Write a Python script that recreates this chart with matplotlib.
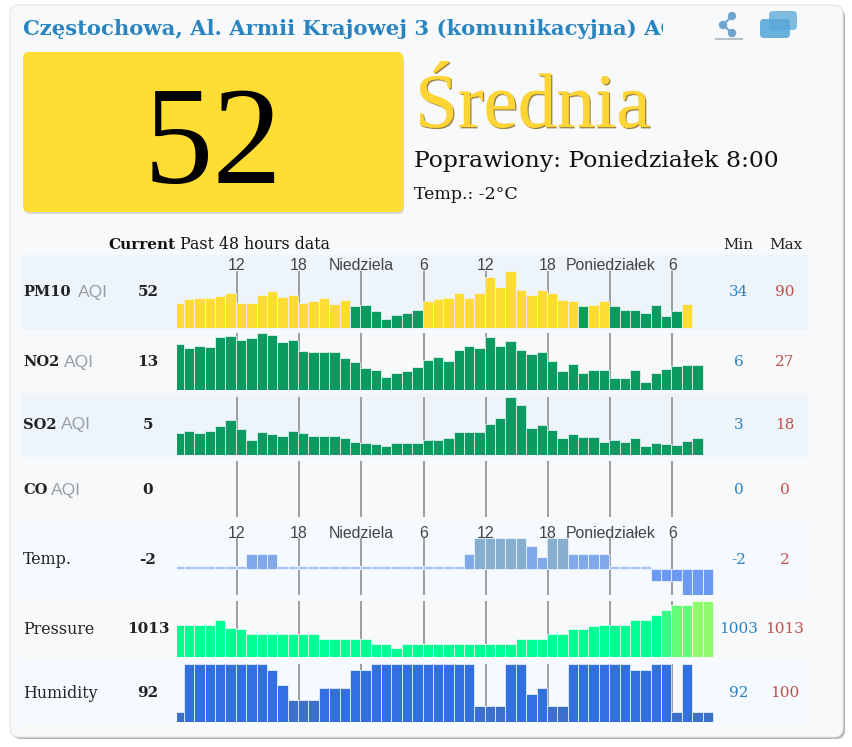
import numpy as np
import matplotlib
matplotlib.use("Agg")
import matplotlib.pyplot as plt
import matplotlib.patheffects as pe
from matplotlib.patches import FancyBboxPatch, Circle, Rectangle

W, H = 852, 747

# data
pm10 = [53, 57, 58, 59, 61, 64, 53, 53, 62, 67, 60, 62, 53, 55, 58, 52, 56, 49, 50, 43, 34, 39, 41, 45, 55,
        57, 59, 64, 58, 64, 83, 71, 90, 68, 62, 68, 64, 56, 55, 49, 51, 55, 49, 45, 45, 41, 50, 38, 43, 52]
no2 = [22.4, 20.5, 21.6, 21.2, 25.6, 26, 24.1, 25.1, 27, 26.3, 23.1, 24.3, 19.3, 19, 19, 19, 16.4, 14.6, 11.8,
       11.1, 8.2, 9.6, 10.8, 12.5, 15.6, 16.9, 15.1, 19.9, 21.6, 20.5, 25.6, 21.5, 23.7, 19.9, 18.2, 18.9, 14.8,
       10.4, 13.7, 9.6, 11.1, 11.1, 7.7, 7.7, 11.1, 6, 9.9, 11.5, 12.7, 13.2, 13.4]
so2 = [6.8, 7.6, 7, 7.4, 9.2, 10.9, 8.3, 4.9, 7.1, 6.5, 6, 7.6, 6.8, 6, 6, 6, 5.3, 4.2, 3.8, 3.6, 3, 3.7, 3.7,
       3.8, 4.9, 4.9, 5.5, 7.1, 7.1, 7.1, 9.8, 11.7, 18, 15.7, 8.6, 9.4, 7.9, 5.3, 6.5, 5.6, 5.6, 4, 4.8, 4, 5.3,
       3, 3.8, 3.5, 3.2, 4.4, 5.5]
co = [0] * 51
temp = [0, 0, 0, 0, 0, 0, 0, 1, 1, 1, 0, 0, 0, 0, 0, 0, 0, 0, 0, 0, 0, 0, 0, 0, 0, 0, 0, 0, 1, 2, 2, 2, 2, 2,
        1.5, 0.8, 2, 2, 1, 1, 1, 1, 0, 0, 0, 0, -0.8, -0.8, -0.8, -1.7, -1.7, -1.7]
pressure = [1008, 1008, 1008, 1008, 1009, 1007.2, 1007, 1006, 1006, 1006, 1006, 1006, 1006, 1006, 1005, 1005,
            1005, 1005, 1005, 1004, 1004, 1003, 1004, 1004, 1004, 1004, 1004, 1004, 1004, 1004, 1004, 1004,
            1004, 1005, 1005, 1005, 1006, 1006, 1007, 1007, 1007.6, 1008, 1008, 1008, 1009, 1009, 1010, 1011,
            1012, 1012, 1013, 1013]
humidity = [92, 100, 100, 100, 100, 100, 100, 100, 100, 99, 96.5, 94, 94, 94, 96, 96, 96, 99, 99, 100, 100, 100,
            100, 100, 100, 100, 100, 100, 100, 93, 93, 93, 100, 100, 95, 96, 93, 93, 100, 100, 100, 100, 100, 100,
            99, 99, 100, 100, 92, 100, 92, 92]

tick_pos = [5.6, 11.6, 17.6, 23.6, 29.6, 35.6, 41.6, 47.6]
tick_labels = ["12", "18", "Niedziela", "6", "12", "18", "Poniedziałek", "6"]

row_names = ["PM10", "NO2", "SO2", "CO", "Temp.", "Pressure", "Humidity"]
current_vals = ["52", "13", "5", "0", "-2", "1013", "92"]
min_vals = ["34", "6", "3", "0", "-2", "1003", "92"]
max_vals = ["90", "27", "18", "0", "2", "1013", "100"]


def pm10_color(v):
    return "#ffdc33" if v > 50 else "#0b9a60"


def temp_color(v):
    if v >= 2:
        return "#86afcf"
    if v > 0:
        return "#7fa9e8"
    if v == 0:
        return "#a9c1f5"
    return "#6c9af2"


def pressure_color(v):
    if v >= 1013:
        return "#8efb6c"
    if v >= 1012:
        return "#62fd78"
    if v >= 1011:
        return "#35fd84"
    return "#00ff92"


def humidity_color(v):
    return "#3d70cb" if v <= 94 else "#326fe0"


fig = plt.figure(figsize=(W / 100, H / 100), dpi=100)
bg = fig.add_axes([0, 0, 1, 1])
bg.set_xlim(0, W)
bg.set_ylim(H, 0)
bg.axis("off")

SERIF = "Liberation Serif"
WIDE = "DejaVu Serif"
SANS = "Liberation Sans"

# card
bg.add_patch(FancyBboxPatch((12, 8), 833, 731, boxstyle="round,pad=0,rounding_size=9", fc="#b5b5b5", ec="none"))
bg.add_patch(FancyBboxPatch((10, 5), 833, 732, boxstyle="round,pad=0,rounding_size=9", fc="#f7f9fa", ec="#e4e6e7", lw=0.8))

# header, the title is cut off inside the card like in the original
title = bg.text(23, 35, "Częstochowa, Al. Armii Krajowej 3 (komunikacyjna) AQI", family=WIDE, weight="bold",
                fontsize=15.2, color="#2a84bf", clip_on=True)
title.set_clip_path(Rectangle((23, 0), 640, 60, transform=bg.transData))

# share icon
for cx, cy in [(732, 16), (723, 25), (732, 33)]:
    bg.add_patch(Circle((cx, cy), 4.2, fc="#6fa5cc", ec="none"))
bg.plot([732, 723, 732], [16, 25, 33], color="#6fa5cc", lw=1.5)
bg.plot([716, 742], [39, 39], color="#b5c2ca", lw=1.5)

# chat icon
bg.add_patch(FancyBboxPatch((769, 11), 28, 19, boxstyle="round,pad=0,rounding_size=4", fc="#7fbce0", ec="none"))
bg.add_patch(FancyBboxPatch((760, 19), 30, 19, boxstyle="round,pad=0,rounding_size=4", fc="#5aa9da", ec="none", alpha=0.9))

# big AQI box
bg.add_patch(FancyBboxPatch((24, 54), 380, 160, boxstyle="round,pad=0,rounding_size=6", fc="#d8d8d0", ec="none"))
bg.add_patch(FancyBboxPatch((23, 52), 380, 160, boxstyle="round,pad=0,rounding_size=6", fc="#ffdd33", ec="none"))
bg.text(213, 183, "52", family=SERIF, fontsize=100, color="black", ha="center", va="baseline")

bg.text(415, 127, "Średnia", family=SERIF, fontsize=55.5, color="#fdd535", va="baseline",
        path_effects=[pe.withSimplePatchShadow(offset=(1, -1), shadow_rgbFace="#8a6a20", alpha=0.8), pe.Normal()])
bg.text(414, 167, "Poprawiony: Poniedziałek 8:00", family=WIDE, fontsize=16.9, color="#111111", va="baseline")
bg.text(414, 199, "Temp.: -2°C", family=WIDE, fontsize=12.5, color="#111111", va="baseline")

# table header
bg.text(108, 249, "Current", family=WIDE, weight="bold", fontsize=11, color="#111111")
bg.text(180, 249, "Past 48 hours data", family=WIDE, fontsize=11.4, color="#111111")
bg.text(738, 249, "Min", family=WIDE, fontsize=10.8, color="#222222", ha="center")
bg.text(786, 249, "Max", family=WIDE, fontsize=11, color="#222222", ha="center")

# row bands
bands = [(255, 330, "#edf5fb"), (330, 393, "#f7f9fa"), (393, 457, "#edf5fb"), (457, 522, "#f7f9fa"),
         (522, 597, "#f4faff"), (597, 660, "#f7f9fa"), (660, 724, "#f4faff")]
for top, bottom, c in bands:
    bg.add_patch(Rectangle((22, top), 786, bottom - top, fc=c, ec="none"))

# row texts
label_y = [292, 362, 425, 490, 560, 629, 693]
aqi_x = [78, 64, 61, 51, None, None, None]
for i, name in enumerate(row_names):
    y = label_y[i]
    bold = i < 4
    bg.text(23, y, name, family=WIDE, fontsize=10.5 if bold else 11.4, weight="bold" if bold else "normal",
            color="#222222", va="center")
    if aqi_x[i] is not None:
        bg.text(aqi_x[i], y, "AQI", family=SANS, fontsize=12.5, color="#9a9fa3", va="center")
    bg.text(148, y, current_vals[i], family=WIDE, fontsize=11, weight="bold", color="#222222", va="center", ha="center")
    bg.text(739, y, min_vals[i], family=WIDE, fontsize=11, color="#2f80bf", va="center", ha="center")
    bg.text(785, y, max_vals[i], family=WIDE, fontsize=11, color="#c0504d", va="center", ha="center")

# bar rows: values, top px, base px, ymin, ymax, colours, gap colour
rows = [
    (pm10, 271, 327.7, 24, 90, [pm10_color(v) for v in pm10], "#edf5fb"),
    (no2, 333.3, 390.3, 2.23, 27, ["#0b9a60"] * len(no2), "#f7f9fa"),
    (so2, 397.3, 455, 0.1, 18, ["#0b9a60"] * len(so2), "#edf5fb"),
    (co, 461, 517, 0, 1, ["#0b9a60"] * len(co), "#f7f9fa"),
    (temp, 538, 595, -1.7, 2.02, [temp_color(v) for v in temp], "#f4faff"),
    (pressure, 600.7, 657, 1001.2, 1013, [pressure_color(v) for v in pressure], "#f7f9fa"),
    (humidity, 664.3, 721.7, 90.44, 100, [humidity_color(v) for v in humidity], "#f4faff"),
]

LEFT_PX, RIGHT_PX = 177, 716
for values, top, base, ymin, ymax, colors, gap in rows:
    ax = fig.add_axes([LEFT_PX / W, 1 - base / H, (RIGHT_PX - LEFT_PX) / W, (base - top) / H])
    ax.patch.set_alpha(0)
    ax.axis("off")
    ax.set_xlim(-0.175, 51.8)
    ax.set_ylim(ymin, ymax)
    for t in tick_pos:
        ax.axvline(t, color="#858585", lw=1.1, zorder=1)
    vals = np.array(values, dtype=float)
    if values is temp:
        # zero degrees is drawn as a thin dash
        vals = np.where(vals == 0, 0.22, vals)
        ax.bar(np.arange(len(vals)), vals, width=1.0, color=colors, edgecolor=gap, linewidth=0.5, zorder=2)
    elif values is co:
        pass
    else:
        ax.bar(np.arange(len(vals)), vals - ymin, bottom=ymin, width=1.0, color=colors, edgecolor=gap,
               linewidth=0.5, zorder=2)

# hour labels above PM10 and Temp rows
for label_row_y in [266, 533]:
    for t, lab in zip(tick_pos, tick_labels):
        px = 184 + 10.37 * (t - 0.5)
        bg.text(px, label_row_y, lab, family=SANS, fontsize=11.4, color="#444444", ha="center", va="center", zorder=5)

fig.savefig("out.png", dpi=100)
